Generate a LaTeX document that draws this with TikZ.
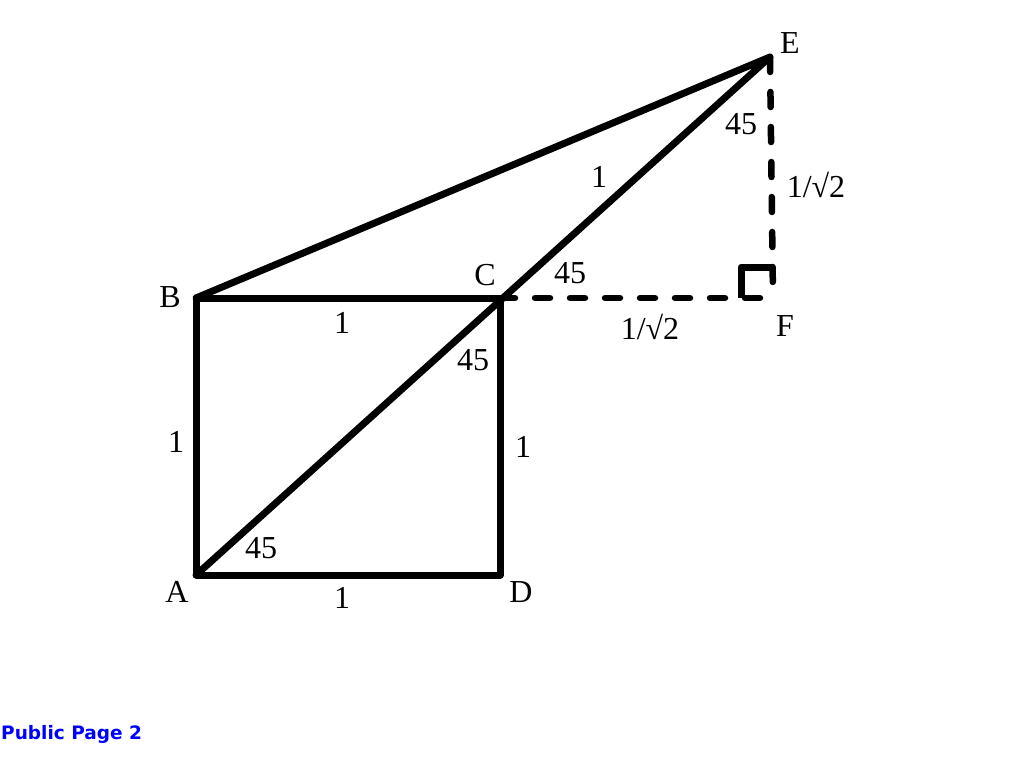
\documentclass[tikz,border=0pt]{standalone}
\usepackage{fontspec}
\setmainfont{Liberation Serif}
\newfontfamily\pagefont{DejaVu Sans}
\usetikzlibrary{positioning}

\tikzset{
  side/.style={line width=7pt, line join=round, line cap=round},
  aux/.style={line width=6.5pt, line cap=round, dash pattern=on 15pt off 20pt},
  lbl/.style={font=\fontsize{32}{32}\selectfont, inner sep=0pt}
}

\begin{document}
\begin{tikzpicture}[x=1pt, y=-1pt]
\useasboundingbox (0,0) rectangle (1014,760);
\coordinate (A) at (196,575);
\coordinate (B) at (196,298);
\coordinate (C) at (500,298);
\coordinate (D) at (500,575);
\coordinate (E) at (770,57);
\coordinate (F) at (773,298);

\draw[aux] (C) -- (F);
\draw[aux] (E) -- (F);
\draw[side, line cap=butt] ([xshift=-32pt]F) |- ([yshift=31pt]F);
\draw[side] (A) -- (B) -- (C) -- (D) -- cycle;
\draw[side] (A) -- (E) -- (B);

\node[lbl] (lA) at (177,592) {A};
\node[lbl] (lB) at (170,297) {B};
\node[lbl] (lC) at (485,275) {C};
\node[lbl] (lD) at (521,592) {D};
\node[lbl] (lE) at (790,43) {E};
\node[lbl] (lF) at (785,326) {F};

\node[lbl] (sAB) at (176,442) {1};
\node[lbl] (sBC) at (342,323) {1};
\node[lbl] (sCD) at (523,447) {1};
\node[lbl] (sAD) at (342,598) {1};
\node[lbl] (sCE) at (599,177) {1};
\node[lbl] (sCF) at (650,327) {1/\char"221A 2};
\node[lbl] (sEF) at (816,185) {1/\char"221A 2};

\node[lbl] (aA) at (261,548) {45};
\node[lbl] (aC1) at (473,360) {45};
\node[lbl] (aC2) at (570,273) {45};
\node[lbl] (aE) at (741,124) {45};

\node[font=\pagefont\bfseries\fontsize{18.5}{18.5}\selectfont, text=blue, anchor=west, inner sep=0pt] (page) at (1,734) {Public Page 2};
\end{tikzpicture}
\end{document}
